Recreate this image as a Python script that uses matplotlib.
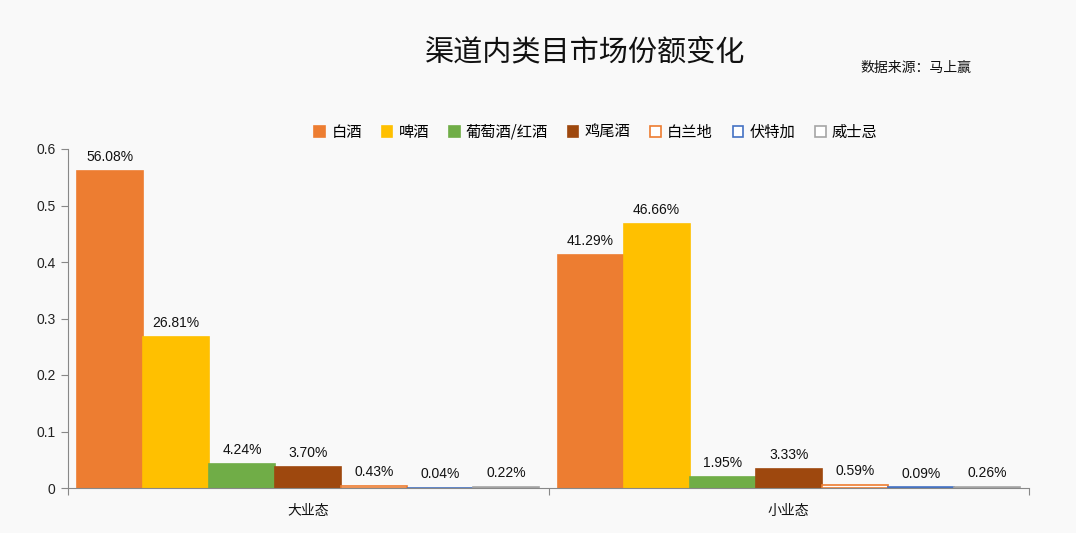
import matplotlib
matplotlib.use("Agg")
import matplotlib.pyplot as plt
import numpy as np

plt.rcParams['font.family'] = ['Liberation Sans', 'Noto Sans CJK SC', 'DejaVu Sans']

categories = ["大业态", "小业态"]
series = ["白酒", "啤酒", "葡萄酒/红酒", "鸡尾酒", "白兰地", "伏特加", "威士忌"]
values = {
    "白酒": [0.5608, 0.4129],
    "啤酒": [0.2681, 0.4666],
    "葡萄酒/红酒": [0.0424, 0.0195],
    "鸡尾酒": [0.0370, 0.0333],
    "白兰地": [0.0043, 0.0059],
    "伏特加": [0.0004, 0.0009],
    "威士忌": [0.0022, 0.0026],
}
labels = {
    "白酒": ["56.08%", "41.29%"],
    "啤酒": ["26.81%", "46.66%"],
    "葡萄酒/红酒": ["4.24%", "1.95%"],
    "鸡尾酒": ["3.70%", "3.33%"],
    "白兰地": ["0.43%", "0.59%"],
    "伏特加": ["0.04%", "0.09%"],
    "威士忌": ["0.22%", "0.26%"],
}
yticks = [0, 0.1, 0.2, 0.3, 0.4, 0.5, 0.6]
ytick_labels = ["0", "0.1", "0.2", "0.3", "0.4", "0.5", "0.6"]

styles = {
    "白酒": dict(facecolor="#ED7D31", edgecolor="#ED7D31"),
    "啤酒": dict(facecolor="#FFC000", edgecolor="#FFC000"),
    "葡萄酒/红酒": dict(facecolor="#70AD47", edgecolor="#70AD47"),
    "鸡尾酒": dict(facecolor="#9E480E", edgecolor="#9E480E"),
    "白兰地": dict(facecolor="white", edgecolor="#ED7D31"),
    "伏特加": dict(facecolor="white", edgecolor="#4472C4"),
    "威士忌": dict(facecolor="white", edgecolor="#A5A5A5"),
}

bg = "#F9F9F9"
fig = plt.figure(figsize=(10.76, 5.33), dpi=100, facecolor=bg)
ax = fig.add_axes([68/1076, 1-488/533, (1029-68)/1076, (488-149)/533], facecolor=bg)

n = len(series)
bar_w = (462/480) / n
x = np.arange(len(categories))
for i, s in enumerate(series):
    pos = x - (n*bar_w)/2 + bar_w*(i+0.5)
    bars = ax.bar(pos, values[s], width=bar_w, linewidth=1.2, label=s, **styles[s])
    for b, lab in zip(bars, labels[s]):
        ax.annotate(lab, (b.get_x()+b.get_width()/2, b.get_height()),
                    xytext=(0, 5), textcoords="offset points",
                    ha="center", va="bottom", fontsize=10, color="#111111")

ax.set_xlim(-0.5, 1.5)
ax.set_ylim(0, 0.6)
ax.set_yticks(yticks)
ax.set_yticklabels(ytick_labels, fontsize=10, color="#222222")
ax.set_xticks([-0.5, 0.5, 1.5])
ax.set_xticklabels(["", "", ""])
ax.tick_params(axis='x', length=5, color="#888888")
ax.tick_params(axis='y', length=5, color="#888888", pad=4)
for xi, c in zip(x, categories):
    ax.text(xi, -0.04, c, ha="center", va="center", fontsize=10, color="#111111",
            transform=ax.transData)
for sp in ["top", "right"]:
    ax.spines[sp].set_visible(False)
for sp in ["left", "bottom"]:
    ax.spines[sp].set_color("#888888")

fig.legend(loc="center", bbox_to_anchor=(596/1076, 1-132/533), ncol=7,
           frameon=False, handlelength=0.7, handleheight=0.7,
           columnspacing=1.3, handletextpad=0.4,
           prop={'family': ['Noto Sans CJK SC'], 'size': 11})

fig.text(585/1076, 1-52/533, "渠道内类目市场份额变化", ha="center", va="center",
         fontsize=21, family=['Noto Sans CJK SC'], color="#111111")
fig.text(916/1076, 1-68/533, "数据来源：马上赢", ha="center", va="center",
         fontsize=10, family=['Noto Sans CJK SC'], color="#111111")

fig.savefig("out.png", dpi=100, facecolor=bg)
